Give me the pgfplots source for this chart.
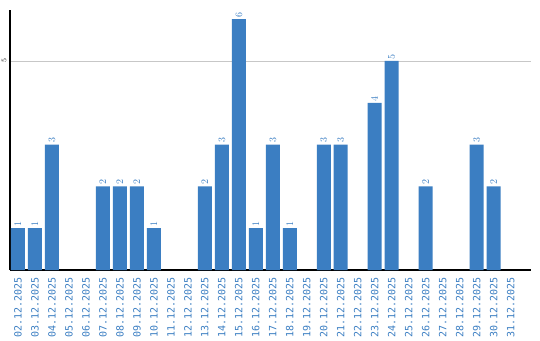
\documentclass[border=0pt]{standalone}
\usepackage{pgfplots}
\pgfplotsset{compat=1.18}
\usepackage{fontspec}
\setmainfont{DejaVu Sans}
\newfontfamily\monofont{DejaVu Sans Mono}
\definecolor{barblue}{RGB}{59,126,194}
\begin{document}
\begin{tikzpicture}[x=1pt,y=1pt]
\path[use as bounding box] (0,0) rectangle (540,340);
\begin{axis}[
  at={(10pt,70pt)}, anchor=south west,
  scale only axis, width=521pt, height=260pt,
  xmin=-0.47, xmax=30.2, ymin=0, ymax=6.22,
  axis x line*=bottom, axis y line*=left,
  axis line style={line width=1.2pt, black, -},
  ytick={5},
  yticklabel style={rotate=90, anchor=south, font=\monofont\fontsize{7}{8}\selectfont},
  ymajorgrids, grid style={black!22, line width=0.8pt},
  xtick={0,...,29},
  xticklabels={02.12.2025,03.12.2025,04.12.2025,05.12.2025,06.12.2025,07.12.2025,08.12.2025,09.12.2025,10.12.2025,11.12.2025,12.12.2025,13.12.2025,14.12.2025,15.12.2025,16.12.2025,17.12.2025,18.12.2025,19.12.2025,20.12.2025,21.12.2025,22.12.2025,23.12.2025,24.12.2025,25.12.2025,26.12.2025,27.12.2025,28.12.2025,29.12.2025,30.12.2025,31.12.2025},
  xticklabel style={rotate=90, anchor=east, font=\monofont\fontsize{10}{12}\selectfont, text=barblue},
  xticklabel shift=4pt,
  major tick length=0pt,
  ybar, bar width=14pt,
  nodes near coords,
  every node near coord/.append style={rotate=90, anchor=west, inner sep=1.5pt, font=\monofont\fontsize{10}{12}\selectfont, text=barblue},
]
\addplot[fill=barblue, draw=none] coordinates {
(0,1) (1,1) (2,3) (5,2) (6,2) (7,2) (8,1) (11,2) (12,3) (13,6) (14,1) (15,3) (16,1) (18,3) (19,3) (21,4) (22,5) (24,2) (27,3) (28,2)
};
\end{axis}
\end{tikzpicture}
\end{document}
